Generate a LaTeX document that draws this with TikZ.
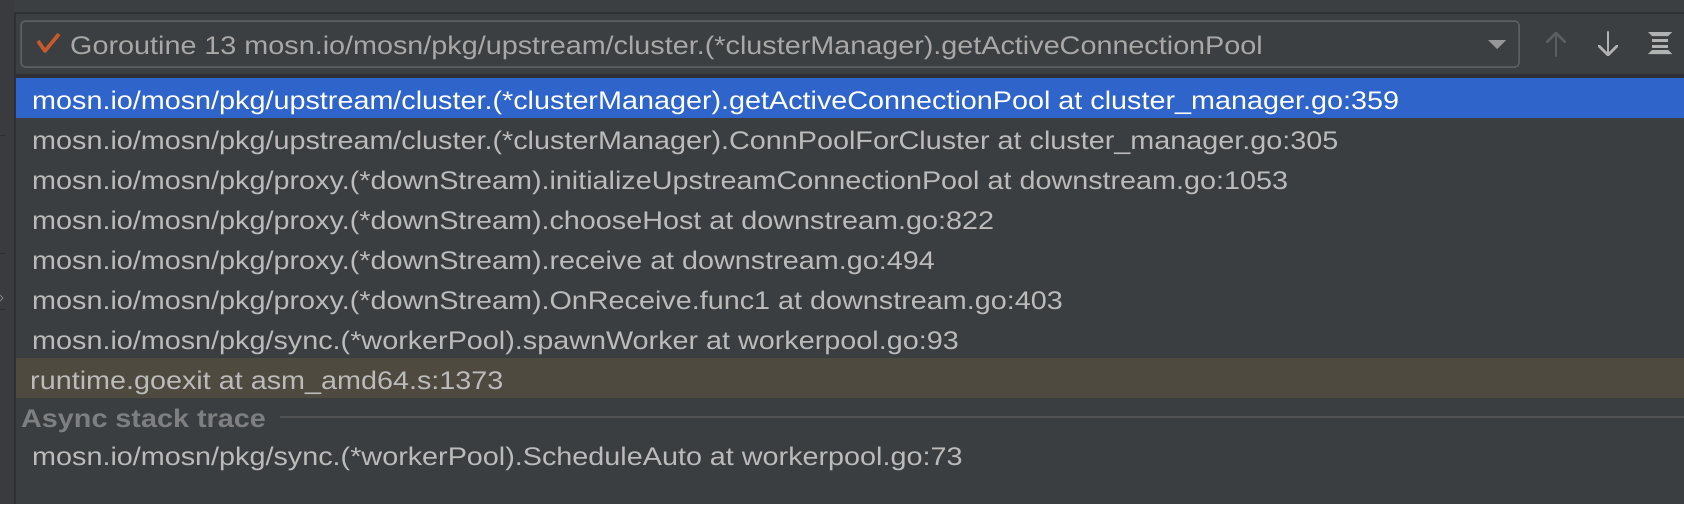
\documentclass[tikz,border=0pt]{standalone}
\usepackage{fontspec}
\setmainfont{Liberation Sans}[FakeStretch=1.128]
\definecolor{panelbg}{HTML}{3C3F41}
\definecolor{listbg}{HTML}{3B3E41}
\definecolor{stripbg}{HTML}{393B3E}
\definecolor{darkline}{HTML}{2E3033}
\definecolor{selblue}{HTML}{2F65CA}
\definecolor{exitrow}{HTML}{4E4A3F}
\definecolor{textgrey}{HTML}{BBBBBB}
\definecolor{headgrey}{HTML}{7D7F81}
\definecolor{sepgrey}{HTML}{515254}
\definecolor{boxgrey}{HTML}{5E6163}
\definecolor{tickorange}{HTML}{C65A2C}
\definecolor{icongrey}{HTML}{B0B2B4}
\definecolor{icondim}{HTML}{5B5E61}
\begin{document}
\begin{tikzpicture}[x=1pt,y=-1pt]
\tikzset{frame/.style={anchor=base west, inner sep=0pt, text=textgrey, font=\fontsize{25.5}{30}\selectfont},
  selframe/.style={frame, text=white},
  asynchead/.style={frame, text=headgrey, font=\fontsize{25.5}{30}\selectfont\bfseries},
  arrowicon/.style={line width=2.6pt, line cap=round, line join=round}}
\useasboundingbox (0,0) rectangle (1684,504);
\fill[listbg] (0,0) rectangle (1684,504);
\fill[panelbg] (0,0) rectangle (1684,74);
\fill[darkline] (0,12) rectangle (1684,14);
\fill[darkline] (14,74) rectangle (1684,78);
\fill[stripbg] (0,0) rectangle (14,504);
\fill[darkline] (14,14) rectangle (16,504);
\draw[darkline, line width=1pt] (0,135) -- (6,135);
\draw[darkline, line width=1pt] (0,253) -- (6,253);
\draw[darkline, line width=1pt] (0,309) -- (6,309);
\draw[headgrey, line width=1pt] (0,295) -- (3,298) -- (0,301);
% goroutine selector
\draw[boxgrey, line width=1.5pt, fill=panelbg, rounded corners=4pt] (21,21) rectangle (1519,67);
\draw[tickorange, line width=3.6pt, line join=round] (38,41) -- (45,51) -- (59,34);
\node[frame, text=textgrey!90!black] (gr) at (70,54.5) {Goroutine 13 mosn.io/mosn/pkg/upstream/cluster.(*clusterManager).getActiveConnectionPool};
\fill[icongrey!85!black] (1488,40) -- (1506,40) -- (1497,49) -- cycle;
\draw[arrowicon, icondim] (1556,56) -- (1556,34);
\draw[arrowicon, icondim] (1547,42) -- (1556,33) -- (1565,42);
\draw[arrowicon, icongrey] (1608,32) -- (1608,54);
\draw[arrowicon, icongrey] (1599,46) -- (1608,55) -- (1617,46);
\fill[icongrey] (1648,32) -- (1672,32) -- (1668,36) -- (1652,36) -- cycle;
\fill[icongrey] (1652,39) rectangle (1668,42);
\fill[icongrey] (1652,44.5) rectangle (1668,47.5);
\fill[icongrey] (1652,50) -- (1668,50) -- (1672,54) -- (1648,54) -- cycle;
% frames
\fill[selblue] (16,78) rectangle (1684,118);
\fill[exitrow] (16,358) rectangle (1684,398);
\node[selframe] (f1) at (32,109) {mosn.io/mosn/pkg/upstream/cluster.(*clusterManager).getActiveConnectionPool at cluster\_manager.go:359};
\node[frame] (f2) at (32,149) {mosn.io/mosn/pkg/upstream/cluster.(*clusterManager).ConnPoolForCluster at cluster\_manager.go:305};
\node[frame] (f3) at (32,189) {mosn.io/mosn/pkg/proxy.(*downStream).initializeUpstreamConnectionPool at downstream.go:1053};
\node[frame] (f4) at (32,229) {mosn.io/mosn/pkg/proxy.(*downStream).chooseHost at downstream.go:822};
\node[frame] (f5) at (32,269) {mosn.io/mosn/pkg/proxy.(*downStream).receive at downstream.go:494};
\node[frame] (f6) at (32,309) {mosn.io/mosn/pkg/proxy.(*downStream).OnReceive.func1 at downstream.go:403};
\node[frame] (f7) at (32,349) {mosn.io/mosn/pkg/sync.(*workerPool).spawnWorker at workerpool.go:93};
\node[frame] (f8) at (30,389) {runtime.goexit at asm\_amd64.s:1373};
% async part
\node[asynchead] (async) at (21,427) {Async stack trace};
\coordinate (sepend) at (1684,417);
\draw[sepgrey, line width=1.5pt] (async.east |- sepend) ++(14,0) -- (sepend);
\node[frame] (a1) at (32,465) {mosn.io/mosn/pkg/sync.(*workerPool).ScheduleAuto at workerpool.go:73};
\end{tikzpicture}
\end{document}
